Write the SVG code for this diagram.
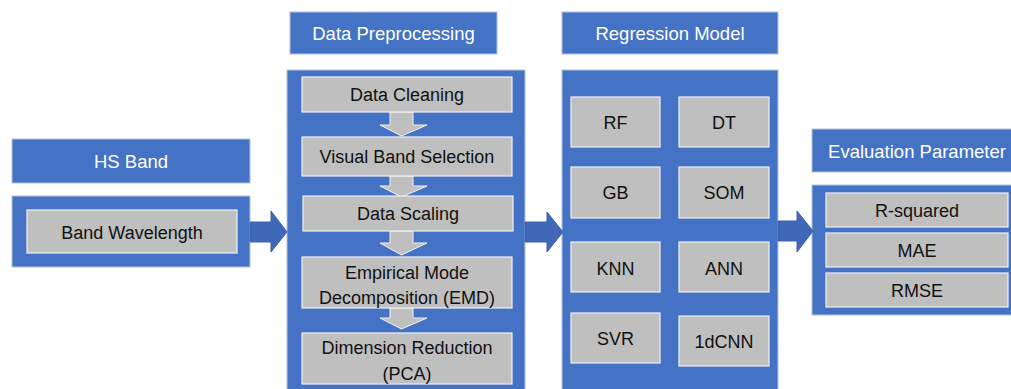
<svg xmlns="http://www.w3.org/2000/svg" width="1011" height="389" viewBox="0 0 1011 389">
<style>
.blue{fill:#4472C4;stroke:#B4C3E0;stroke-width:1}
.gray{fill:#BFBFBF;stroke:#F2F2F2;stroke-width:1.2}
.hd{font-family:"Liberation Sans",Arial,sans-serif;font-size:18.5px;fill:#FFFFFF;text-anchor:middle}
.tx{font-family:"Liberation Sans",Arial,sans-serif;font-size:18px;fill:#111111;text-anchor:middle}
.ra{fill:#3F69B8;stroke:#3A62AA;stroke-width:1}
.da{fill:#BFBFBF;stroke:#F2F2F2;stroke-width:1}
</style>
<rect width="1011" height="389" fill="#FFFFFF"/>
<g id="hs-band">
<rect class="blue" x="12" y="139" width="238" height="44"/>
<text class="hd" x="131" y="167.5">HS Band</text>
<rect class="blue" x="12" y="196" width="238" height="71"/>
<rect class="gray" x="27" y="210" width="210" height="43"/>
<text class="tx" x="132" y="238.5">Band Wavelength</text>
</g>
<g id="data-preprocessing">
<rect class="blue" x="290" y="12" width="207" height="42"/>
<text class="hd" x="393.5" y="39.5">Data Preprocessing</text>
<rect class="blue" x="287" y="70" width="238" height="325"/>
</g>
<g id="steps-connectors">
<polygon class="da" points="390,112 413,112 413,125 427,125 401.5,136 380,125 390,125"/>
<polygon class="da" points="390,176 413,176 413,186 427,186 401.5,197 380,186 390,186"/>
<polygon class="da" points="390,231 413,231 413,243 427,243 401.5,255 380,243 390,243"/>
<polygon class="da" points="390,308 413,308 413,318 427,318 401.5,329 380,318 390,318"/>
</g>
<g id="data-cleaning">
<rect class="gray" x="302" y="77" width="210" height="35"/>
<text class="tx" x="407" y="101">Data Cleaning</text>
</g>
<g id="visual-band-selection">
<rect class="gray" x="302" y="137" width="210" height="39"/>
<text class="tx" x="407" y="163">Visual Band Selection</text>
</g>
<g id="data-scaling">
<rect class="gray" x="303" y="196" width="210" height="35"/>
<text class="tx" x="408" y="220">Data Scaling</text>
</g>
<g id="emd">
<rect class="gray" x="302" y="257" width="210" height="51"/>
<text class="tx" x="407" y="278.5">Empirical Mode</text>
<text class="tx" x="407" y="303.5">Decomposition (EMD)</text>
</g>
<g id="dimension-reduction">
<rect class="gray" x="302" y="333" width="210" height="51"/>
<text class="tx" x="407" y="353.5">Dimension Reduction</text>
<text class="tx" x="407" y="379.5">(PCA)</text>
</g>
<g id="regression-model">
<rect class="blue" x="562" y="12" width="216" height="42"/>
<text class="hd" x="670" y="39.5">Regression Model</text>
<rect class="blue" x="562" y="70" width="216" height="325"/>
</g>
<g id="rf"><rect class="gray" x="571" y="97" width="89" height="50"/><text class="tx" x="615.5" y="128.5">RF</text></g>
<g id="dt"><rect class="gray" x="679" y="97" width="90" height="50"/><text class="tx" x="724" y="128.5">DT</text></g>
<g id="gb"><rect class="gray" x="571" y="167" width="89" height="51"/><text class="tx" x="615.5" y="198.5">GB</text></g>
<g id="som"><rect class="gray" x="679" y="167" width="90" height="51"/><text class="tx" x="724" y="198.5">SOM</text></g>
<g id="knn"><rect class="gray" x="571" y="242" width="89" height="50"/><text class="tx" x="615.5" y="274.5">KNN</text></g>
<g id="ann"><rect class="gray" x="679" y="242" width="90" height="50"/><text class="tx" x="724" y="274.5">ANN</text></g>
<g id="svr"><rect class="gray" x="571" y="313" width="89" height="50"/><text class="tx" x="615.5" y="344.5">SVR</text></g>
<g id="cnn"><rect class="gray" x="679" y="316" width="90" height="50"/><text class="tx" x="724" y="347.5">1dCNN</text></g>
<g id="evaluation-parameter">
<rect class="blue" x="812" y="129" width="205" height="43"/>
<text class="hd" x="917" y="157.5">Evaluation Parameter</text>
<rect class="blue" x="812" y="185" width="205" height="130"/>
</g>
<g id="r-squared"><rect class="gray" x="826" y="193" width="182" height="34"/><text class="tx" x="917" y="216.5">R-squared</text></g>
<g id="mae"><rect class="gray" x="826" y="233" width="182" height="34"/><text class="tx" x="917" y="256.5">MAE</text></g>
<g id="rmse"><rect class="gray" x="826" y="273" width="182" height="34"/><text class="tx" x="917" y="296.5">RMSE</text></g>
<g id="connectors">
<polygon class="ra" points="250,222 271,222 271,211 287,232 271,252 271,242 250,242"/>
<polygon class="ra" points="525,222 547,222 547,212 563,232 547,252 547,242 525,242"/>
<polygon class="ra" points="778,221 797,221 797,211 813,231 797,252 797,241 778,241"/>
</g>
</svg>
